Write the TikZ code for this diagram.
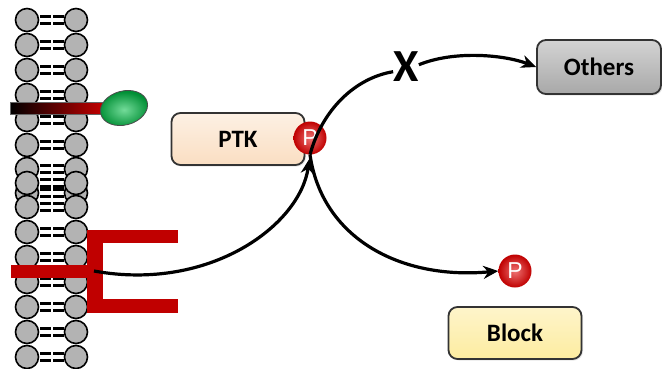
\documentclass[tikz,border=0pt]{standalone}
\usepackage{fontspec}
\setmainfont{Carlito}
\setsansfont{Liberation Sans}
\usepackage{xcolor}
\usetikzlibrary{arrows.meta,shadows}

\definecolor{lipid}{RGB}{179,179,179}
\definecolor{rcpt}{RGB}{192,0,0}
\definecolor{peach}{RGB}{250,222,194}
\definecolor{lemon}{RGB}{253,236,160}
\definecolor{stone}{RGB}{168,168,168}
\definecolor{leaf}{RGB}{0,190,70}
\definecolor{ruby}{RGB}{225,0,0}

\tikzset{
  box/.style={draw=black!80, line width=1.8pt, rounded corners=9pt,
    minimum width=133pt, minimum height=52pt,
    font=\bfseries\fontsize{25}{27}\selectfont,
    drop shadow={opacity=0.2, shadow xshift=1.5pt, shadow yshift=-1.5pt}},
  phos/.style={circle, shading=radial, inner color=ruby!55!white, outer color=ruby!85!black,
    minimum size=33pt, inner sep=0pt,
    text=white, font=\sffamily\fontsize{23}{23}\selectfont},
  link/.style={line width=3.2pt, -{Stealth[length=15pt,width=13pt]}},
}

\begin{document}
\begin{tikzpicture}[x=1pt,y=-1pt]
  \useasboundingbox (0,0) rectangle (662,368);
  % lipid bilayer, back rows first
  \foreach \y in {193,20,45,70,95,120,145,169,183,207,232,257,282,307,332,357}{
    \foreach \x in {27,76}
      \draw[line width=1.6pt, fill=lipid] (\x,\y) circle (11.5);
    \foreach \d in {-3.5,3.5}
      \draw[line width=2.3pt] (40,\y+\d) -- (51,\y+\d) (53,\y+\d) -- (64,\y+\d);
  }
  % anchored protein
  \shade[left color=black, right color=rcpt] (10,102) rectangle (102,114);
  \draw[line width=0.6pt, black!60] (10,102) rectangle (102,114);
  \shade[inner color=leaf!55!white, outer color=leaf!75!black, rotate around={15:(124,108)}] (124,108) ellipse (24 and 17);
  \draw[line width=0.8pt, black!70, rotate around={15:(124,108)}] (124,108) ellipse (24 and 17);
  % receptor
  \fill[rcpt] (11,265) rectangle (100,278);
  \fill[rcpt] (87,230) rectangle (103,313);
  \fill[rcpt] (87,230) rectangle (178,243);
  \fill[rcpt] (87,299) rectangle (178,313);
  \coordinate (rec) at (94,271);

  \node[box, top color=peach!45!white, bottom color=peach] (ptk) at (238,139) {PTK};
  \node[phos] (p1) at (310,138) {P};
  \node[box, minimum width=124pt, minimum height=54pt, top color=stone!50!white, bottom color=stone] (others) at (599,67) {Others};
  \node[box, top color=lemon!55!white, bottom color=lemon] (block) at (515,333) {Block};
  \node[phos] (p2) at (515,271) {P};
  \node[font=\bfseries\fontsize{46}{46}\selectfont, inner sep=0pt] (x) at (406,67) {X};

  \draw[link, shorten >=4pt] (rec) .. controls (210,292) and (300,225) .. (p1.south);
  \draw[line width=3.2pt] (p1.south) .. controls (322,110) and (355,78) .. (x.200);
  \draw[link] (x.10) .. controls (455,50) and (505,55) .. (others.west);
  \draw[link] (p1.south) .. controls (322,238) and (400,280) .. (p2.west);
\end{tikzpicture}
\end{document}
